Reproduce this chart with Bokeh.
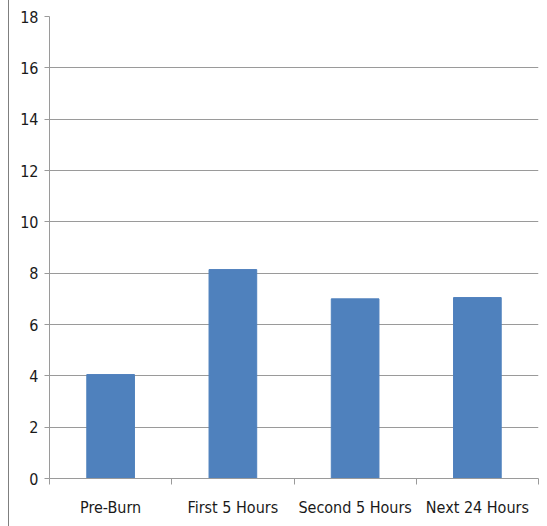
from bokeh.plotting import figure
from bokeh.models import Range1d, FixedTicker
from bokeh.embed import file_html
from bokeh.resources import INLINE

categories = ["Pre-Burn", "First 5 Hours", "Second 5 Hours", "Next 24 Hours"]
values = [4.05, 8.14, 7.0, 7.05]
y_ticks = [0, 2, 4, 6, 8, 10, 12, 14, 16, 18]

xs = [i + 0.5 for i in range(len(categories))]
FONT = "DejaVu Sans Condensed"
GRID = "#9a9a9a"

p = figure(width=538, height=526, output_backend="svg", toolbar_location=None,
           x_range=Range1d(0, len(categories)), y_range=Range1d(0, 18),
           min_border_left=40, min_border_right=9, min_border_top=16, min_border_bottom=48)
p.styles = {"border-left": "1px solid #7f7f7f", "margin-left": "8px"}
p.outline_line_color = None

p.vbar(x=xs, top=values, width=0.39, fill_color="#4f81bd", line_color="#4f81bd")

p.xaxis.ticker = FixedTicker(ticks=xs, minor_ticks=list(range(len(categories) + 1)))
p.xaxis.major_label_overrides = {x: c for x, c in zip(xs, categories)}
p.xaxis.major_tick_line_color = None
p.xaxis.major_tick_out = 0
p.xaxis.major_tick_in = 0
p.xaxis.minor_tick_line_color = GRID
p.xaxis.minor_tick_out = 6
p.xaxis.minor_tick_in = 0
p.xaxis.major_label_standoff = 13

p.yaxis.ticker = FixedTicker(ticks=y_ticks)
p.yaxis.major_tick_line_color = GRID
p.yaxis.major_tick_out = 5
p.yaxis.major_tick_in = 0
p.yaxis.minor_tick_line_color = None
p.yaxis.major_label_standoff = 6

for ax in (p.xaxis, p.yaxis):
    ax.axis_line_color = GRID
    ax.major_label_text_font = FONT
    ax.major_label_text_font_size = "16px"
    ax.major_label_text_color = "#1a1a1a"

p.xgrid.grid_line_color = None
p.ygrid.grid_line_color = GRID
p.ygrid.grid_line_width = 1

open("out.html", "w").write(file_html(p, INLINE))
